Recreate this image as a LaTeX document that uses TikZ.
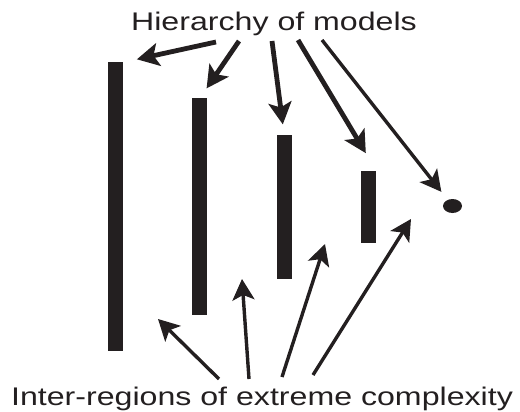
\documentclass[tikz,border=0pt]{standalone}
\usepackage{fontspec}
\setmainfont{Liberation Sans}
\usetikzlibrary{arrows.meta, positioning, shapes.geometric, calc}
\definecolor{ink}{RGB}{35,31,32}

\begin{document}
\begin{tikzpicture}[
    x=1pt, y=-1pt,
    bar/.style={rectangle, fill=ink, inner sep=0pt, minimum width=15pt},
    caption/.style={font=\fontsize{25.5}{30}\selectfont, text=ink, inner sep=0pt, xscale=1.26, anchor=base},
    thickarrow/.style={-{Stealth[length=22pt, width=23pt, inset=5pt]}, line width=4.8pt, draw=ink},
    thinarrow/.style={-{Stealth[length=21pt, width=22pt, inset=5pt]}, line width=3.4pt, draw=ink}
]
    \useasboundingbox (0,0) rectangle (520,412);

    % Labels
    \node[caption] (hier) at (274,30.7) {Hierarchy of models};
    \node[caption] (inter) at (262,405) {Inter-regions of extreme complexity};

    % Models: bars shrink towards the dot
    \foreach \i in {1,...,4} {
        \pgfmathsetmacro\barh{72*(5-\i)}
        \node[bar, minimum height=\barh pt] (bar\i) at ({115.5+84.3*(\i-1)},206.5) {};
    }
    \node[ellipse, fill=ink, inner sep=0pt, minimum width=19pt, minimum height=14pt] (dot) at (452.5,206) {};

    % Gaps between the models
    \coordinate (gap1) at (158,319);
    \coordinate (gap2) at (242,279);
    \coordinate (gap3) at (325,244);
    \coordinate (gap4) at (411,219);

    % Hierarchy arrows
    \draw[thickarrow, shorten >=14pt] ($(hier.base)+(-58,11.3)$) -- (bar1.north east);
    \draw[thickarrow, shorten >=12pt] ($(hier.base)+(-35,10.3)$) -- (bar2.north);
    \draw[thickarrow, shorten >=10pt] ($(hier.base)+(-2,10.3)$) -- (bar3.north);
    \draw[thickarrow, shorten >=20pt] ($(hier.base)+(24,9.3)$) -- (bar4.north east);
    \draw[thinarrow, shorten >=18pt] ($(hier.base)+(48,9.3)$) -- (dot.center);

    % Inter-region arrows
    \draw[thinarrow] ($(inter.base)+(-43,-26)$) -- (gap1);
    \draw[thinarrow] ($(inter.base)+(-13,-26)$) -- (gap2);
    \draw[thinarrow] ($(inter.base)+(20,-28)$) -- (gap3);
    \draw[thinarrow] ($(inter.base)+(51,-30)$) -- (gap4);
\end{tikzpicture}
\end{document}
